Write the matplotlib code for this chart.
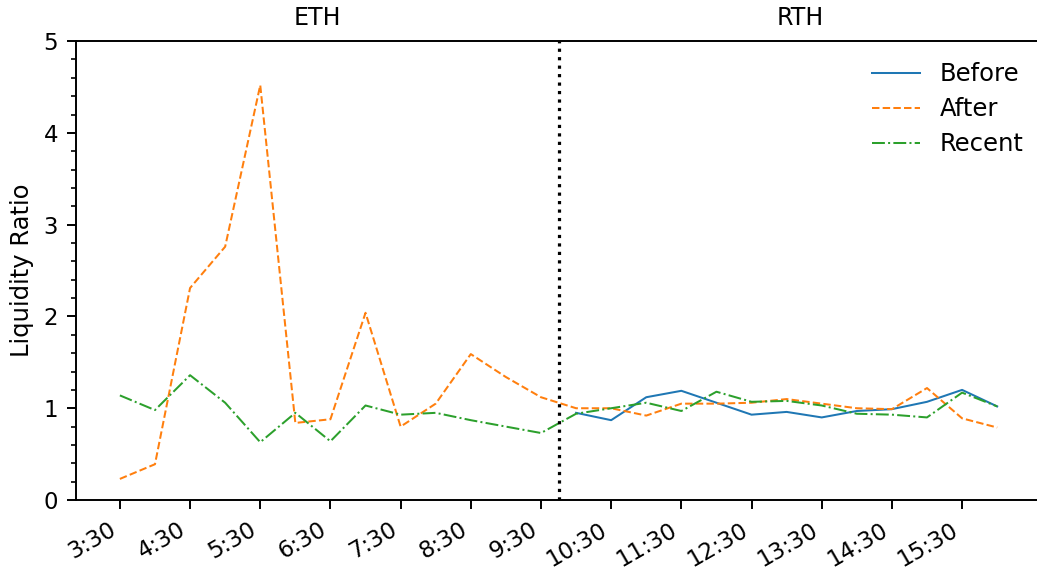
import numpy as np
import matplotlib.pyplot as plt
from matplotlib.ticker import MultipleLocator

# half-hour slots from 3:30 to 16:00
slots = [f"{h}:{m:02d}" for h in range(3, 17) for m in (0, 30)][1:-1]
tick_labels = [f"{h}:30" for h in range(3, 16)]

after = [0.23, 0.39, 2.31, 2.76, 4.52, 0.84, 0.88, 2.04, 0.80, 1.05,
         1.59, 1.34, 1.12, 1.00, 1.00, 0.92, 1.05, 1.05, 1.06, 1.10,
         1.05, 1.00, 0.99, 1.22, 0.89, 0.79]
recent = [1.14, 0.98, 1.36, 1.06, 0.63, 0.95, 0.64, 1.03, 0.93, 0.95,
          0.87, 0.80, 0.73, 0.94, 1.00, 1.06, 0.97, 1.18, 1.07, 1.08,
          1.03, 0.94, 0.93, 0.90, 1.17, 1.02]
# only available for regular trading hours (10:00 onwards)
before = [None] * 13 + [0.95, 0.87, 1.12, 1.19, 1.06, 0.93, 0.96,
                        0.90, 0.97, 0.99, 1.07, 1.20, 1.02]

x = np.arange(len(slots))
before_arr = np.array([np.nan if v is None else v for v in before])

fig = plt.figure(figsize=(10.37, 5.71), dpi=100)
ax = fig.add_axes([0.0733, 0.1243, 0.9306, 0.8037])

lw = 1.45
ax.plot(x, before_arr, '-', color='C0', lw=lw, label='Before')
ax.plot(x, after, '--', color='C1', lw=lw, label='After')
ax.plot(x, recent, '-.', color='C2', lw=lw, label='Recent')

split = 12.5
ax.axvline(split, color='black', ls=':', lw=2.3)

ax.set_xlim(-1.25, 26.25)
ax.set_ylim(0, 5)
ax.set_xticks(x[::2])
ax.set_xticklabels(tick_labels, rotation=30, ha='right')
ax.yaxis.set_minor_locator(MultipleLocator(0.2))
ax.set_ylabel('Liquidity Ratio', fontsize=17.5, labelpad=7)

ax.tick_params(labelsize=16.5, width=1.4, pad=6.5)
ax.tick_params(which='major', length=6.5)
ax.tick_params(which='minor', length=3.6, width=1.2)
for s in ax.spines.values():
    s.set_linewidth(1.4)

# session labels above the plot
xmin, xmax = ax.get_xlim()
trans = ax.get_xaxis_transform()
for lbl, xc in (('ETH', (xmin + split) / 2), ('RTH', (split + xmax) / 2)):
    ax.annotate(lbl, (xc, 1), xycoords=trans, xytext=(0, 8),
                textcoords='offset points', ha='center', va='bottom',
                fontsize=17)

ax.legend(frameon=False, fontsize=17.5, labelspacing=0.45,
          loc='upper left', borderaxespad=0, bbox_to_anchor=(0.8145, 0.975))

fig.savefig('out.png', dpi=100)
